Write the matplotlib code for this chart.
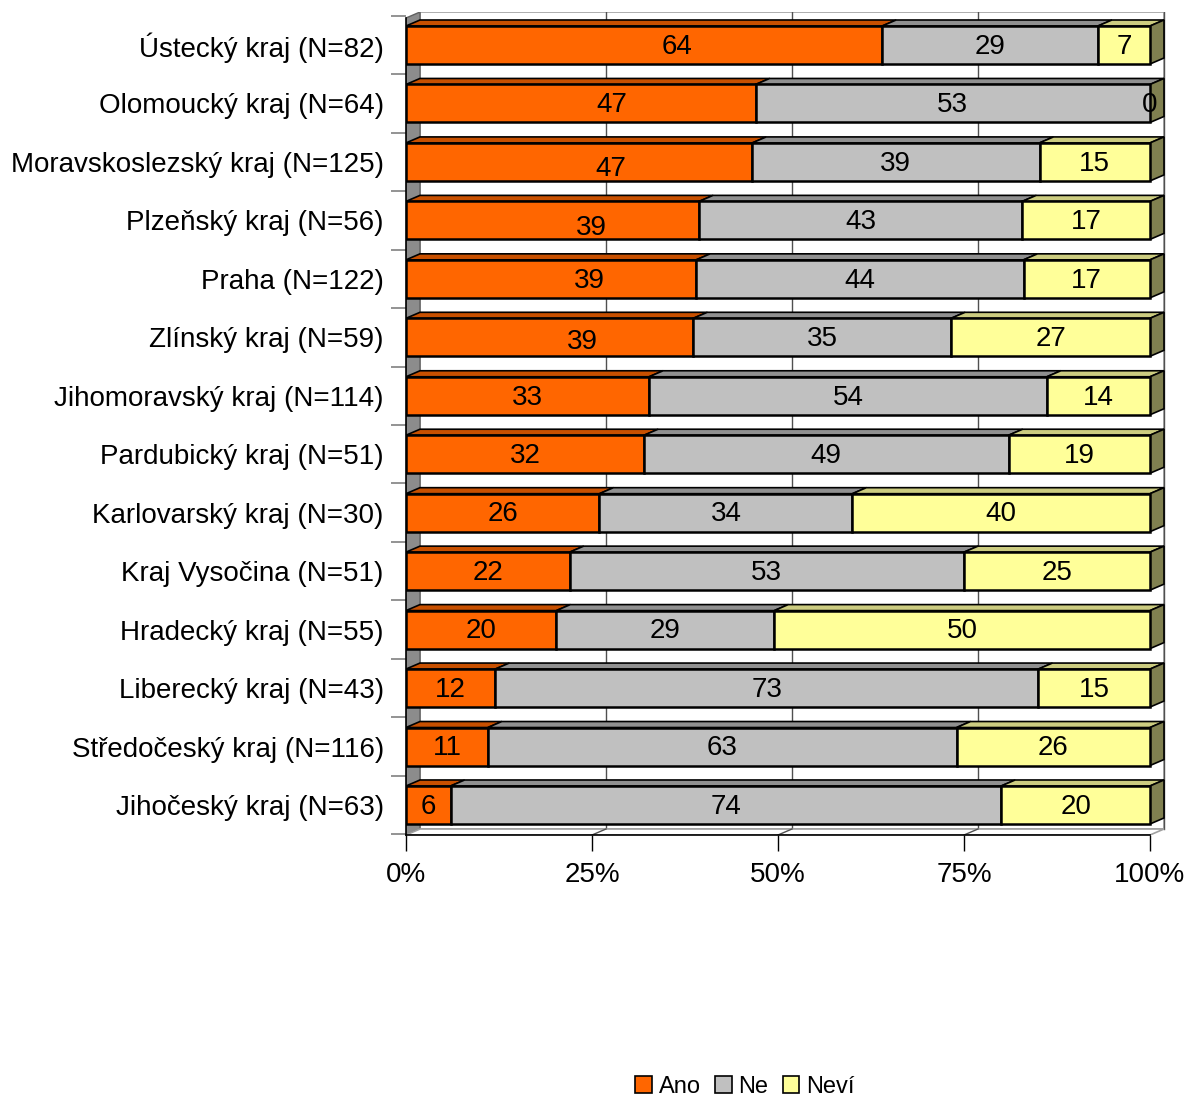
import numpy as np
import matplotlib
matplotlib.use("Agg")
import matplotlib.pyplot as plt
from matplotlib.patches import Polygon, Patch

plt.rcParams['font.family'] = ['Liberation Sans', 'DejaVu Sans']

regions = ["Ústecký kraj (N=82)", "Olomoucký kraj (N=64)", "Moravskoslezský kraj (N=125)",
           "Plzeňský kraj (N=56)", "Praha (N=122)", "Zlínský kraj (N=59)",
           "Jihomoravský kraj (N=114)", "Pardubický kraj (N=51)", "Karlovarský kraj (N=30)",
           "Kraj Vysočina (N=51)", "Hradecký kraj (N=55)", "Liberecký kraj (N=43)",
           "Středočeský kraj (N=116)", "Jihočeský kraj (N=63)"]
ano = [64, 47, 47, 39, 39, 39, 33, 32, 26, 22, 20, 12, 11, 6]
ne = [29, 53, 39, 43, 44, 35, 54, 49, 34, 53, 29, 73, 63, 74]
nevi = [7, 0, 15, 17, 17, 27, 14, 19, 40, 25, 50, 15, 26, 20]

series_names = ["Ano", "Ne", "Neví"]
front = ["#FF6600", "#C0C0C0", "#FFFF99"]
top = ["#C85000", "#909090", "#CCCC80"]
side = ["#A04000", "#707070", "#808050"]

# the original's "Ano" labels in the top rows sit off-centre (pixel nudges)
ano_nudge = {0: (33, 0), 1: (31, 0), 2: (32, 5), 3: (39, 6), 4: (38, 0), 5: (33, 3)}

fig = plt.figure(figsize=(11.88, 10.98), dpi=100)
W, H = 1188, 1098
# axes placed in pixels: x 406..1166, y 12..835
ax = fig.add_axes([406 / W, 1 - 835 / H, 760 / W, 823 / H])
px_x = 744 / 100.0          # pixels per percent
px_y = 58.46                # pixels per row
xmax = 760 / px_x
ytop = (12 - 45) / px_y
ybot = (835 - 45) / px_y
ax.set_xlim(0, xmax)
ax.set_ylim(ybot, ytop)

dx = 14 / px_x
dy = 6 / px_y
bh = 38 / px_y
n = len(regions)

# left wall
ax.add_patch(Polygon([(0, ybot), (0, ytop + dy), (dx, ytop), (dx, ybot - dy)],
                     closed=True, facecolor="#8c8c8c", edgecolor="#606060", lw=1, zorder=1))
# back wall
ax.add_patch(Polygon([(dx, ybot - dy), (dx, ytop), (100 + dx, ytop), (100 + dx, ybot - dy)],
                     closed=True, facecolor="white", edgecolor="#a0a0a0", lw=1.2, zorder=0.5))
for g in [25, 50, 75, 100]:
    ax.plot([g + dx, g + dx], [ybot - dy, ytop], color="#505050", lw=1, zorder=1)
# floor
ax.add_patch(Polygon([(0, ybot), (dx, ybot - dy), (100 + dx, ybot - dy), (100, ybot)],
                     closed=True, facecolor="white", edgecolor="#a0a0a0", lw=1.2, zorder=1))
for g in [25, 50, 75]:
    ax.plot([g, g + dx], [ybot, ybot - dy], color="#505050", lw=1, zorder=1.2)

data = np.array([ano, ne, nevi], dtype=float)
totals = data.sum(axis=0)
for i in range(n):
    y0 = i - bh / 2
    y1 = i + bh / 2
    left = 0.0
    for s in range(3):
        w = data[s, i] / totals[i] * 100
        if w > 0:
            ax.add_patch(Polygon([(left, y0), (left + dx, y0 - dy), (left + w + dx, y0 - dy), (left + w, y0)],
                                 closed=True, facecolor=top[s], edgecolor="black", lw=1.2, zorder=3))
            ax.add_patch(Polygon([(left, y0), (left + w, y0), (left + w, y1), (left, y1)],
                                 closed=True, facecolor=front[s], edgecolor="black", lw=1.8, zorder=4))
        tx, ty = left + w / 2, i + 0.03
        if s == 0 and i in ano_nudge:
            tx += ano_nudge[i][0] / px_x
            ty += ano_nudge[i][1] / px_y
        ax.text(tx, ty, str(int(data[s, i])), ha="center", va="center",
                fontsize=20, zorder=6)
        left += w
    ax.add_patch(Polygon([(100, y0), (100 + dx, y0 - dy), (100 + dx, y1 - dy), (100, y1)],
                         closed=True, facecolor=side[2], edgecolor="black", lw=1.2, zorder=3.5))

for sp in ["top", "right"]:
    ax.spines[sp].set_visible(False)
ax.spines["left"].set_bounds(ybot, ytop + dy)
ax.spines["bottom"].set_bounds(0, 100)
ax.spines["left"].set_linewidth(1.2)
ax.spines["bottom"].set_linewidth(1.2)

ax.set_xticks([0, 25, 50, 75, 100])
ax.set_xticklabels(["0%", "25%", "50%", "75%", "100%"], fontsize=20)
ax.tick_params(axis="x", length=11.5, width=1, pad=8)
ax.set_yticks(range(n))
ax.set_yticklabels(regions, fontsize=20)
ax.set_yticks(np.arange(-0.5, n, 1.0), minor=True)
ax.tick_params(axis="y", which="major", length=0, pad=16)
ax.tick_params(axis="y", which="minor", length=11, width=1.2, color="#808080")

handles = [Patch(facecolor=front[s], edgecolor="black", lw=1.2) for s in range(3)]
fig.legend(handles, series_names, loc="center", bbox_to_anchor=(745 / W, 1 - 1087 / H),
           ncol=3, frameon=False, fontsize=17, handlelength=0.7, handleheight=0.7,
           handletextpad=0.3, columnspacing=0.6)

fig.savefig("out.png", dpi=100)
